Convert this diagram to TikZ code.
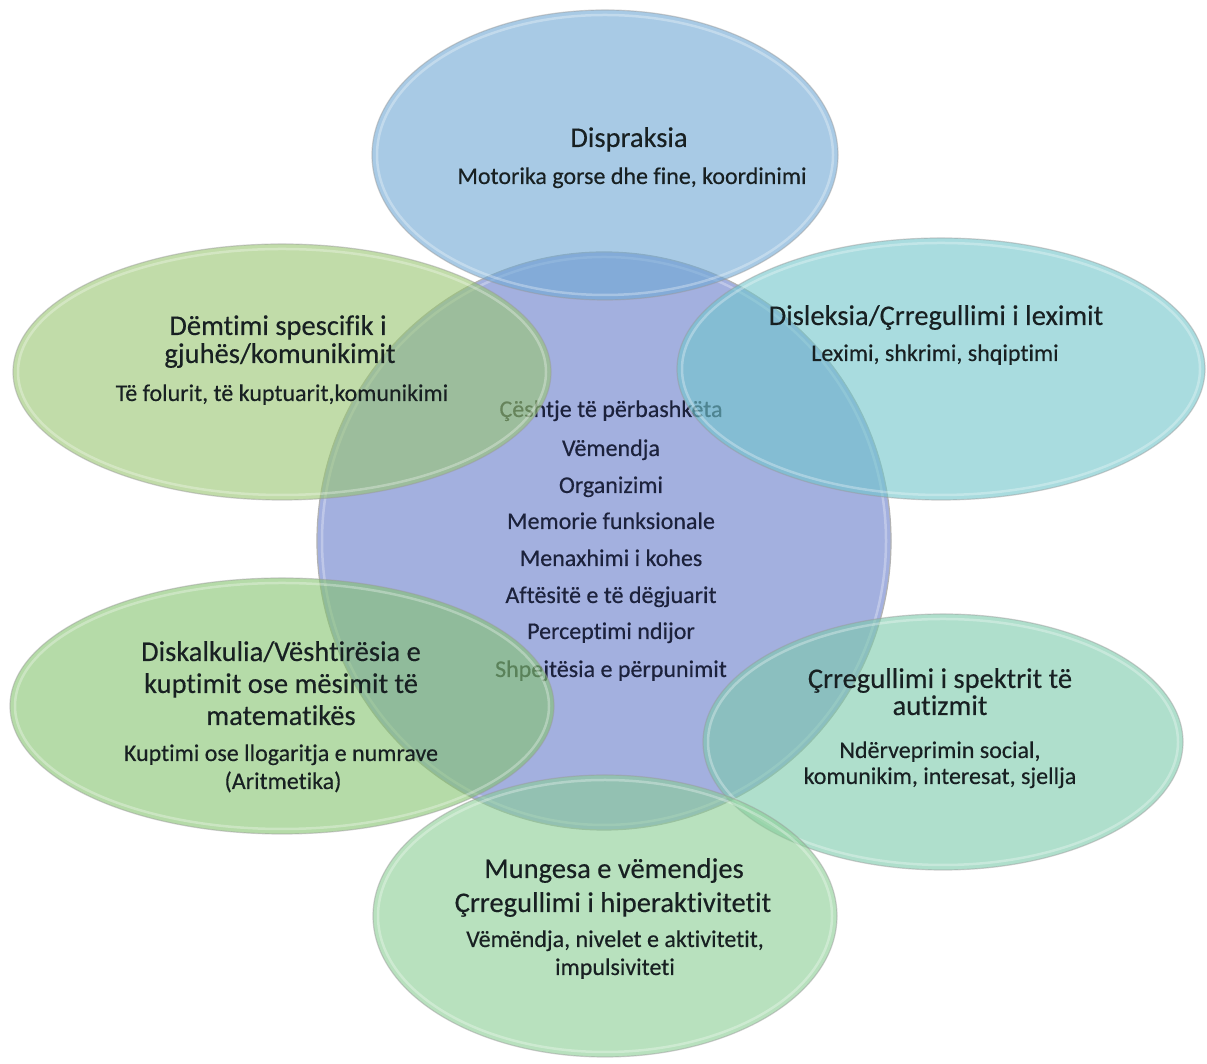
\documentclass[tikz,border=0pt]{standalone}
\usepackage{fontspec}
\setmainfont{Carlito}[Ligatures={NoCommon,NoContextual},FakeBold=0.35]
\usetikzlibrary{shapes.geometric}
\definecolor{cCenter}{RGB}{163,176,223}
\definecolor{cDisp}{RGB}{110,168,212}
\definecolor{cDemt}{RGB}{152,198,112}
\definecolor{cDisl}{RGB}{112,198,203}
\definecolor{cDisk}{RGB}{132,195,110}
\definecolor{cAut}{RGB}{123,202,170}
\definecolor{cMung}{RGB}{137,205,148}
\definecolor{txt}{RGB}{24,32,34}
\definecolor{ctxt}{RGB}{28,34,60}
\tikzset{
  blob/.style={ellipse, inner sep=0pt, outer sep=0pt, fill opacity=0.6, draw=black!40, draw opacity=0.45, line width=1.2pt},
  rim/.style={ellipse, inner sep=0pt, outer sep=0pt, draw=white, draw opacity=0.3, line width=2.5pt},
  ttltext/.style={anchor=base, font=\fontsize{28.5}{32}\selectfont, text=txt, inner sep=0pt},
  subtext/.style={anchor=base, font=\fontsize{24}{27}\selectfont, text=txt, inner sep=0pt},
  ctrtext/.style={anchor=base, font=\fontsize{24}{27}\selectfont, text=ctxt, inner sep=0pt},
}
\begin{document}
\begin{tikzpicture}[x=1pt,y=1pt]
\useasboundingbox (0,0) rectangle (1207,1064);
\fill[white] (0,0) rectangle (1207,1064);
% central circle
\node[ellipse, inner sep=0pt, fill=cCenter, draw=black!30, line width=1.2pt, minimum width=574pt, minimum height=578pt] (ctr) at (604,523) {};
\node[rim, minimum width=564pt, minimum height=568pt] (ctrrim) at (604,523) {};
\node[ctrtext] (c1) at (611,647) {Çështje të përbashkëta};
\node[ctrtext] (c2) at (611,608) {Vëmendja};
\node[ctrtext] (c3) at (611,571) {Organizimi};
\node[ctrtext] (c4) at (611,535) {Memorie funksionale};
\node[ctrtext] (c5) at (611,498) {Menaxhimi i kohes};
\node[ctrtext] (c6) at (611,461) {Aftësitë e të dëgjuarit};
\node[ctrtext] (c7) at (611,425) {Perceptimi ndijor};
\node[ctrtext] (c8) at (611,387) {Shpejtësia e përpunimit};
% outer ellipses
\node[blob, fill=cDisp, minimum width=466pt, minimum height=290pt] (disp) at (605,909) {};
\node[rim, minimum width=456pt, minimum height=280pt] (disprim) at (605,909) {};
\node[blob, fill=cDemt, minimum width=538pt, minimum height=256pt] (demt) at (282,692) {};
\node[rim, minimum width=528pt, minimum height=246pt] (demtrim) at (282,692) {};
\node[blob, fill=cDisl, minimum width=528pt, minimum height=262pt] (disl) at (941,695) {};
\node[rim, minimum width=518pt, minimum height=252pt] (dislrim) at (941,695) {};
\node[blob, fill=cDisk, minimum width=544pt, minimum height=256pt] (disk) at (282,358) {};
\node[rim, minimum width=534pt, minimum height=246pt] (diskrim) at (282,358) {};
\node[blob, fill=cAut, minimum width=480pt, minimum height=256pt] (aut) at (943,322) {};
\node[rim, minimum width=470pt, minimum height=246pt] (autrim) at (943,322) {};
\node[blob, fill=cMung, minimum width=464pt, minimum height=282pt] (mung) at (605,148) {};
\node[rim, minimum width=454pt, minimum height=272pt] (mungrim) at (605,148) {};
% texts
\node[ttltext] (t1) at (629,917) {Dispraksia};
\node[subtext] (s1) at (632,880) {Motorika gorse dhe fine, koordinimi};
\node[ttltext] (t2a) at (278,729) {Dëmtimi spescifik i};
\node[ttltext] (t2b) at (280,701) {gjuhës/komunikimit};
\node[subtext] (s2) at (282,663) {Të folurit, të kuptuarit,komunikimi};
\node[ttltext] (t3) at (936,739) {Disleksia/Çrregullimi i leximit};
\node[subtext] (s3) at (935,703) {Leximi, shkrimi, shqiptimi};
\node[ttltext] (t4a) at (281,403) {Diskalkulia/Vështirësia e};
\node[ttltext] (t4b) at (281,371) {kuptimit ose mësimit të};
\node[ttltext] (t4c) at (281,339) {matematikës};
\node[subtext] (s4a) at (281,303) {Kuptimi ose llogaritja e numrave};
\node[subtext] (s4b) at (283,275) {(Aritmetika)};
\node[ttltext] (t5a) at (940,376) {Çrregullimi i spektrit të};
\node[ttltext] (t5b) at (940,349) {autizmit};
\node[subtext] (s5a) at (940,306) {Ndërveprimin social,};
\node[subtext] (s5b) at (940,280) {komunikim, interesat, sjellja};
\node[ttltext] (t6a) at (614,186) {Mungesa e vëmendjes};
\node[ttltext] (t6b) at (613,152) {Çrregullimi i hiperaktivitetit};
\node[subtext] (s6a) at (615,117) {Vëmëndja, nivelet e aktivitetit,};
\node[subtext] (s6b) at (615,89) {impulsiviteti};
\end{tikzpicture}
\end{document}
